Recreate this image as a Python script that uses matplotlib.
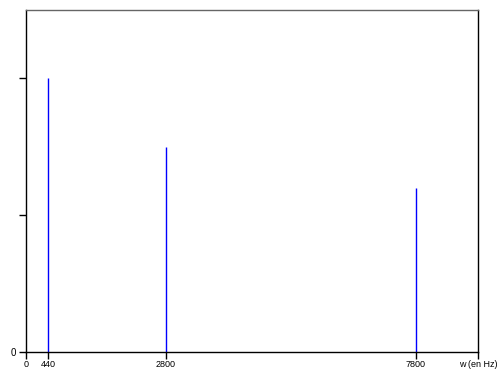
import matplotlib
matplotlib.use("Agg")
from matplotlib import pyplot as plt

# spectrum lines: frequency (Hz) and amplitude
freqs = [440, 2800, 7800]
amps = [2.0, 1.5, 1.2]
xticks = [0, 440, 2800, 7800, 9040]
xlabels = ["0", "440", "2800", "7800", "w (en Hz)"]
yticks = [0, 1, 2]
ylabels = ["0", "", ""]

plt.rcParams['font.family'] = ['Liberation Sans', 'DejaVu Sans']

fig = plt.figure(figsize=(4.98, 3.70), dpi=100)
ax = fig.add_axes([26 / 498, 18 / 370, 452 / 498, 342 / 370])

ax.vlines(freqs, 0, amps, colors="blue", linewidth=1.0)

ax.set_xlim(0, 9040)
ax.set_ylim(0, 2.5)
ax.set_xticks(xticks)
ax.set_xticklabels(xlabels)
ax.set_yticks(yticks)
ax.set_yticklabels(ylabels)
ax.tick_params(axis="y", direction="out", length=5, width=1, labelsize=7, pad=2)
ax.tick_params(axis="x", direction="out", length=5, width=1, labelsize=6.5, pad=1)

for side in ["left", "bottom", "right"]:
    ax.spines[side].set_color("black")
    ax.spines[side].set_linewidth(1)
ax.spines["top"].set_color("#666666")
ax.spines["top"].set_linewidth(1)

fig.savefig("out.png", dpi=100)
